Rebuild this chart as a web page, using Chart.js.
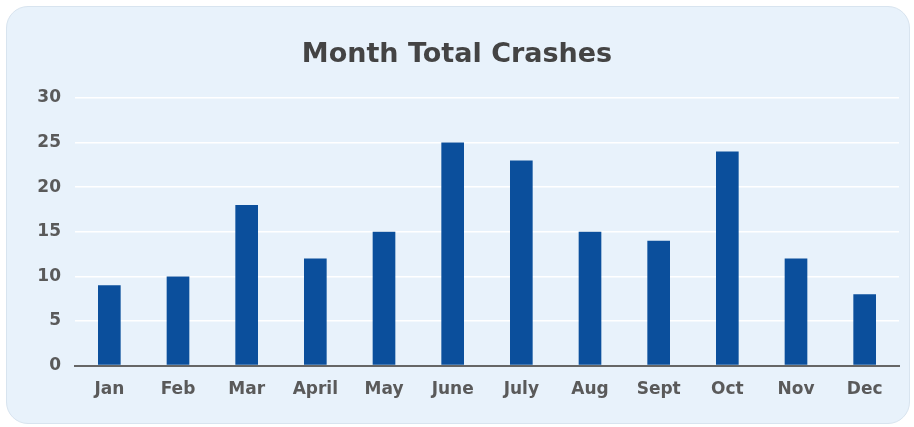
<!DOCTYPE html>
<html>
<head>
<meta charset="utf-8">
<script src="https://cdn.jsdelivr.net/npm/chart.js@4"></script>
<style>
  body { margin: 0; background: #ffffff; }
  #panel {
    position: absolute; left: 6px; top: 6px;
    width: 902px; height: 416px;
    background: #e8f2fb;
    border: 1px solid #d8e4ef;
    border-radius: 22px;
    overflow: hidden;
  }
</style>
</head>
<body>
<div id="panel"><canvas id="myChart" width="902" height="416"></canvas></div>
<script>
const months = ['Jan', 'Feb', 'Mar', 'April', 'May', 'June', 'July', 'Aug', 'Sept', 'Oct', 'Nov', 'Dec'];
const crashes = [9, 10, 18, 12, 15, 25, 23, 15, 14, 24, 12, 8];
const yTicks = [0, 5, 10, 15, 20, 25, 30];

const fontFamily = "'DejaVu Sans', 'Open Sans', sans-serif";

const config = {
    type: 'bar',
    data: {
        labels: months,
        datasets: [{
            label: 'Crashes',
            data: crashes,
            backgroundColor: '#0b4f9c',
            barPercentage: 0.33,
            categoryPercentage: 1
        }]
    },
    options: {
        responsive: false,
        animation: false,
        layout: { padding: { left: 8, right: 10, top: 6, bottom: 9 } },
        plugins: {
            legend: { display: false },
            tooltip: { enabled: false },
            title: {
                display: true,
                text: 'Month Total Crashes',
                color: '#444444',
                font: { family: fontFamily, size: 27, weight: 'bold' },
                padding: { top: 26, bottom: 26.6 }
            }
        },
        scales: {
            x: {
                grid: { display: false, drawTicks: false },
                border: { display: true, color: '#666666', width: 2 },
                ticks: {
                    color: '#5a5a5a',
                    padding: 14,
                    font: { family: fontFamily, size: 17, weight: 'bold' }
                }
            },
            y: {
                min: 0,
                max: 30,
                afterBuildTicks: (scale) => {
                    scale.ticks = yTicks.map(v => ({ value: v }));
                },
                afterFit: (scale) => { scale.width = 60; },
                grid: {
                    color: (ctx) => ctx.tick && ctx.tick.value === 0 ? 'rgba(0,0,0,0)' : '#ffffff',
                    lineWidth: 1.5,
                    drawTicks: false
                },
                border: { display: false },
                ticks: {
                    color: '#5a5a5a',
                    padding: 14,
                    font: { family: fontFamily, size: 17, weight: 'bold' }
                }
            }
        }
    }
};

new Chart(document.getElementById('myChart'), config);
</script>
</body>
</html>
